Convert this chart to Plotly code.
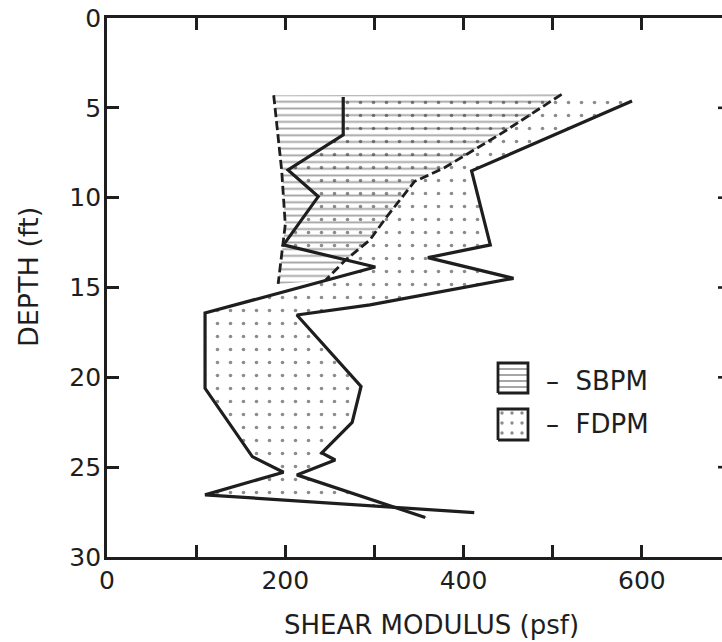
import plotly.graph_objects as go

# ---------------- data (shear modulus in psf vs depth in ft) ----------------
# SBPM band (hatched), bounded by dashed lines
sbpm_low_g = [187, 196, 200, 192]
sbpm_low_d = [4.3, 8.5, 11.5, 14.8]
sbpm_high_g = [510, 440, 378, 345, 314, 295, 267, 245]
sbpm_high_d = [4.25, 6.5, 8.35, 9.1, 11.05, 12.35, 13.5, 14.6]

# FDPM band (dotted), bounded by solid lines
fdpm_low_g = [265, 265, 203, 237, 198, 301, 110, 110, 163, 198, 110, 412]
fdpm_low_d = [4.4, 6.5, 8.46, 9.94, 12.63, 13.86, 16.42, 20.61, 24.41, 25.28, 26.54, 27.53]
fdpm_high_g = [589, 409, 430, 360, 456, 295, 213, 285, 275, 241, 256, 213, 357]
fdpm_high_d = [4.62, 8.51, 12.63, 13.34, 14.49, 15.97, 16.53, 20.5, 22.51, 24.2, 24.6, 25.43, 27.8]

x_ticks = [0, 100, 200, 300, 400, 500, 600]
x_tick_labels = ["0", "", "200", "", "400", "", "600"]
depth_ticks = [0, 5, 10, 15, 20, 25, 30]
depth_tick_labels = ["0", "5", "10", "15", "20", "25", "30"]
series_names = ["SBPM", "FDPM"]

# ---------------- layout constants ----------------
W, H = 722, 642
ML, MR, MT, MB = 107, 0, 18, 85
PX_PER_UNIT = 0.8914            # pixels per psf
X_END = (W - ML - MR) / PX_PER_UNIT
X_AXIS_END = 700                # virtual right axis (outside the window)
INK = "#1e1e1e"
FONT = "DejaVu Sans"

pw = W - ML - MR
ph = H - MT - MB


def px_to_paper_x(px):
    return (px - ML) / pw


def px_to_paper_y(py):
    return (H - MB - py) / ph


fig = go.Figure()

# SBPM hatched band
fig.add_trace(go.Scatter(
    x=sbpm_low_g + sbpm_high_g[::-1],
    y=sbpm_low_d + sbpm_high_d[::-1],
    mode="lines", line=dict(width=0, color="rgba(0,0,0,0)"),
    fill="toself", fillcolor="rgba(0,0,0,0)",
    fillpattern=dict(shape="-", size=6.7, solidity=0.28, fgcolor="#4a4a4a",
                     bgcolor="rgba(0,0,0,0)"),
    hoverinfo="skip", showlegend=False))

# FDPM dotted band
fig.add_trace(go.Scatter(
    x=fdpm_low_g + fdpm_high_g[::-1],
    y=fdpm_low_d + fdpm_high_d[::-1],
    mode="lines", line=dict(width=0, color="rgba(0,0,0,0)"),
    fill="toself", fillcolor="rgba(0,0,0,0)",
    fillpattern=dict(shape=".", size=13, solidity=0.06, fgcolor="#1a1a1a",
                     bgcolor="rgba(0,0,0,0)"),
    hoverinfo="skip", showlegend=False))

# SBPM dashed boundaries
for gx, dy in [(sbpm_low_g, sbpm_low_d), (sbpm_high_g, sbpm_high_d)]:
    fig.add_trace(go.Scatter(x=gx, y=dy, mode="lines",
                             line=dict(color=INK, width=2.8, dash="9px,4px"),
                             hoverinfo="skip", showlegend=False))

# FDPM solid boundaries
for gx, dy in [(fdpm_low_g, fdpm_low_d), (fdpm_high_g, fdpm_high_d)]:
    fig.add_trace(go.Scatter(x=gx, y=dy, mode="lines",
                             line=dict(color=INK, width=3.2),
                             hoverinfo="skip", showlegend=False))

# ---------------- legend (drawn on an overlay axis in plot fractions) ----------------
box_x0, box_x1 = px_to_paper_x(498), px_to_paper_x(528)
boxes = [
    (px_to_paper_y(393), px_to_paper_y(363), dict(shape="-", size=6, solidity=0.3,
                                                  fgcolor="#3a3a3a", bgcolor="rgba(0,0,0,0)")),
    (px_to_paper_y(440), px_to_paper_y(409), dict(shape=".", size=10, solidity=0.09,
                                                  fgcolor="#1a1a1a", bgcolor="rgba(0,0,0,0)")),
]
text_y = [px_to_paper_y(381), px_to_paper_y(424)]
for (y0, y1, pat), ty, name in zip(boxes, text_y, series_names):
    fig.add_trace(go.Scatter(
        x=[box_x0, box_x1, box_x1, box_x0, box_x0],
        y=[y0, y0, y1, y1, y0],
        xaxis="x2", yaxis="y2", mode="lines",
        line=dict(color=INK, width=2.8),
        fill="toself", fillcolor="rgba(0,0,0,0)", fillpattern=pat,
        hoverinfo="skip", showlegend=False))
    fig.add_annotation(x=px_to_paper_x(544), y=ty, xref="paper", yref="paper",
                       text="–  " + name, showarrow=False, xanchor="left",
                       yanchor="middle",
                       font=dict(family=FONT, size=26, color=INK))

# right-axis tick stubs (axis itself lies just outside the window)
for d in depth_ticks[1:-1]:
    fig.add_shape(type="line", xref="x", yref="y",
                  x0=X_AXIS_END - 13 / PX_PER_UNIT, x1=X_AXIS_END, y0=d, y1=d,
                  line=dict(color=INK, width=2.6))

# axis titles
fig.add_annotation(x=px_to_paper_x(431), y=px_to_paper_y(625), xref="paper", yref="paper",
                   text="SHEAR MODULUS (psf)", showarrow=False,
                   xanchor="center", yanchor="middle",
                   font=dict(family=FONT, size=26, color=INK))
fig.add_annotation(x=px_to_paper_x(28), y=px_to_paper_y(277), xref="paper", yref="paper",
                   text="DEPTH (ft)", showarrow=False, textangle=-90,
                   xanchor="center", yanchor="middle",
                   font=dict(family=FONT, size=27, color=INK))

fig.update_layout(
    width=W, height=H,
    margin=dict(l=ML, r=MR, t=MT, b=MB, pad=0),
    paper_bgcolor="white", plot_bgcolor="white",
    showlegend=False,
    xaxis=dict(range=[0, X_END], tickvals=x_ticks, ticktext=x_tick_labels,
               ticks="inside", ticklen=12, tickwidth=2.6, tickcolor=INK,
               showline=True, linewidth=2.8, linecolor=INK, mirror="ticks",
               showgrid=False, zeroline=False, ticklabelstandoff=-1,
               tickfont=dict(family=FONT, size=25, color=INK)),
    yaxis=dict(range=[30, 0], tickvals=depth_ticks, ticktext=depth_tick_labels,
               ticks="inside", ticklen=12, tickwidth=2.6, tickcolor=INK,
               showline=True, linewidth=2.8, linecolor=INK, mirror=False,
               showgrid=False, zeroline=False, ticklabelstandoff=-2,
               tickfont=dict(family=FONT, size=25, color=INK)),
    xaxis2=dict(domain=[0, 1], range=[0, 1], visible=False, overlaying="x",
                anchor="y2", fixedrange=True),
    yaxis2=dict(domain=[0, 1], range=[0, 1], visible=False, overlaying="y",
                anchor="x2", fixedrange=True),
)

fig.write_html("out.html")
